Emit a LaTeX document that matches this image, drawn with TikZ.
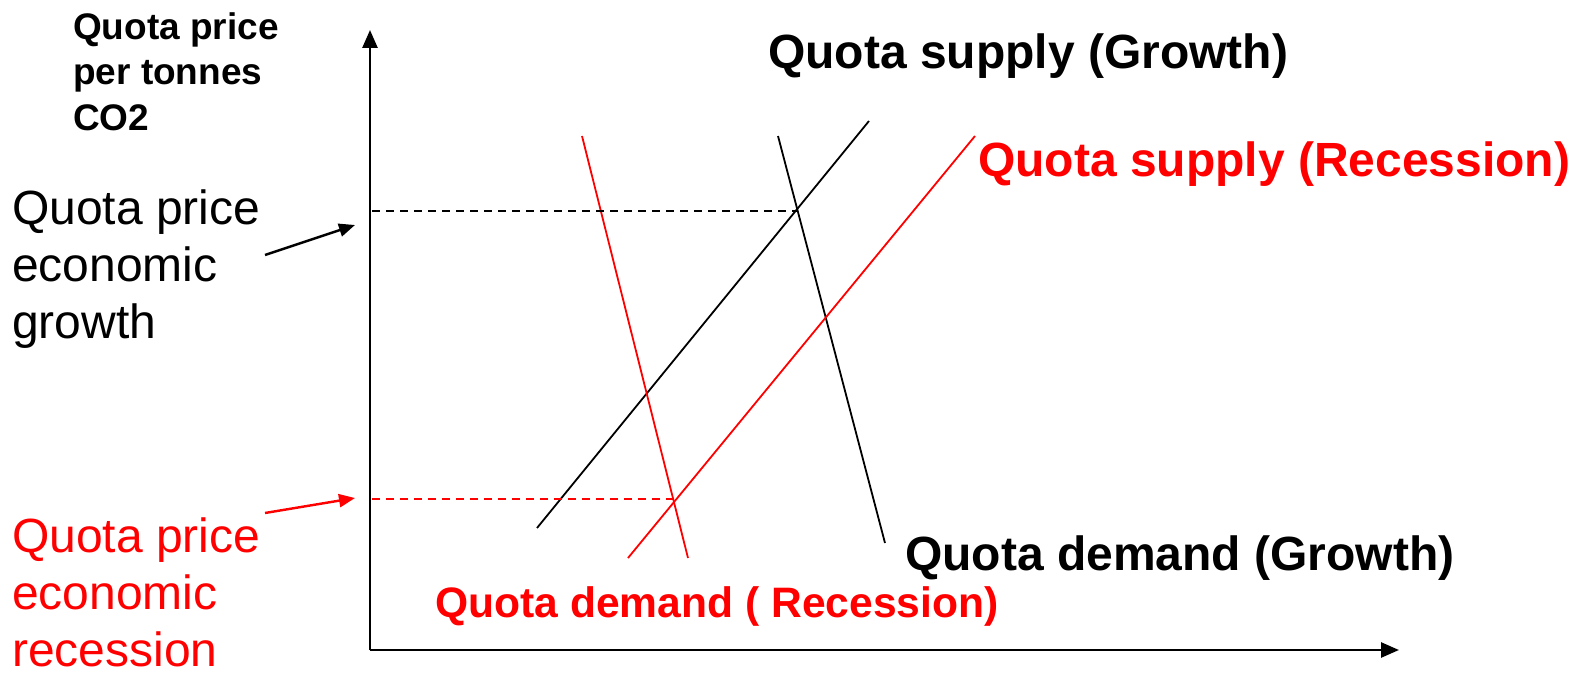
\documentclass[tikz,border=0pt]{standalone}
\usepackage{fontspec}
\setmainfont{Liberation Sans}
\usetikzlibrary{arrows.meta}
\definecolor{qred}{RGB}{255,0,0}
\tikzset{
  axis/.style={line width=2.6pt,-{Triangle[length=18pt,width=15pt]}},
  curve/.style={line width=1.8pt},
  guide/.style={line width=1.8pt,dash pattern=on 8pt off 6pt},
  pointer/.style={line width=2.4pt,-{Triangle[length=16pt,width=13pt]}},
  biglbl/.style={inner sep=0pt,anchor=base west,font=\fontsize{48}{57}\selectfont\bfseries},
  sidelbl/.style={inner sep=0pt,anchor=north west,align=left,font=\fontsize{48}{57}\selectfont},
  axlbl/.style={inner sep=0pt,anchor=north west,align=left,font=\fontsize{37}{45.5}\selectfont\bfseries},
}
\begin{document}
\begin{tikzpicture}[x=1pt,y=-1pt]
\useasboundingbox (0,0) rectangle (1583,674);
% axes
\coordinate (O) at (370,650);
\coordinate (ytop) at (370,30);
\coordinate (xend) at (1399,650);
\draw[axis] (O) -- (ytop);
\draw[axis] (O) -- (xend);
% curves
\coordinate (dgT) at (778,136);
\coordinate (dgB) at (885,543);
\coordinate (sgT) at (869,121);
\coordinate (sgB) at (537,528);
\coordinate (drT) at (582,136);
\coordinate (drB) at (688,558);
\coordinate (srT) at (975,136);
\coordinate (srB) at (628,558);
\draw[curve] (dgT) -- (dgB);
\draw[curve] (sgB) -- (sgT);
\draw[curve,qred] (drT) -- (drB);
\draw[curve,qred] (srB) -- (srT);
% equilibria
\coordinate (eg) at (797,211);
\coordinate (er) at (673,499);
\coordinate (ayg) at (372,211);
\coordinate (ayr) at (372,499);
\draw[guide] (ayg) -- (eg);
\draw[guide,qred] (ayr) -- (er);
% labels
\node[biglbl] (lsg) at (768,69) {Quota supply (Growth)};
\node[biglbl,text=qred] (lsr) at (978,177) {Quota supply (Recession)};
\node[biglbl] (ldg) at (905,570) {Quota demand (Growth)};
\node[biglbl,text=qred,font=\fontsize{42.6}{50}\selectfont\bfseries] (ldr) at (435,617) {Quota demand ( Recession)};
\node[axlbl] (yl) at (73,12) {Quota price\\per tonnes\\CO2};
\node[sidelbl] (pg) at (12,190) {Quota price\\economic\\growth};
\node[sidelbl,text=qred] (pr) at (12,518) {Quota price\\economic\\recession};
% pointers
\coordinate (pgs) at (265,255);
\coordinate (pge) at (355,225);
\coordinate (prs) at (265,513);
\coordinate (pre) at (355,498);
\draw[pointer] (pgs) -- (pge);
\draw[pointer,qred] (prs) -- (pre);
\end{tikzpicture}
\end{document}
